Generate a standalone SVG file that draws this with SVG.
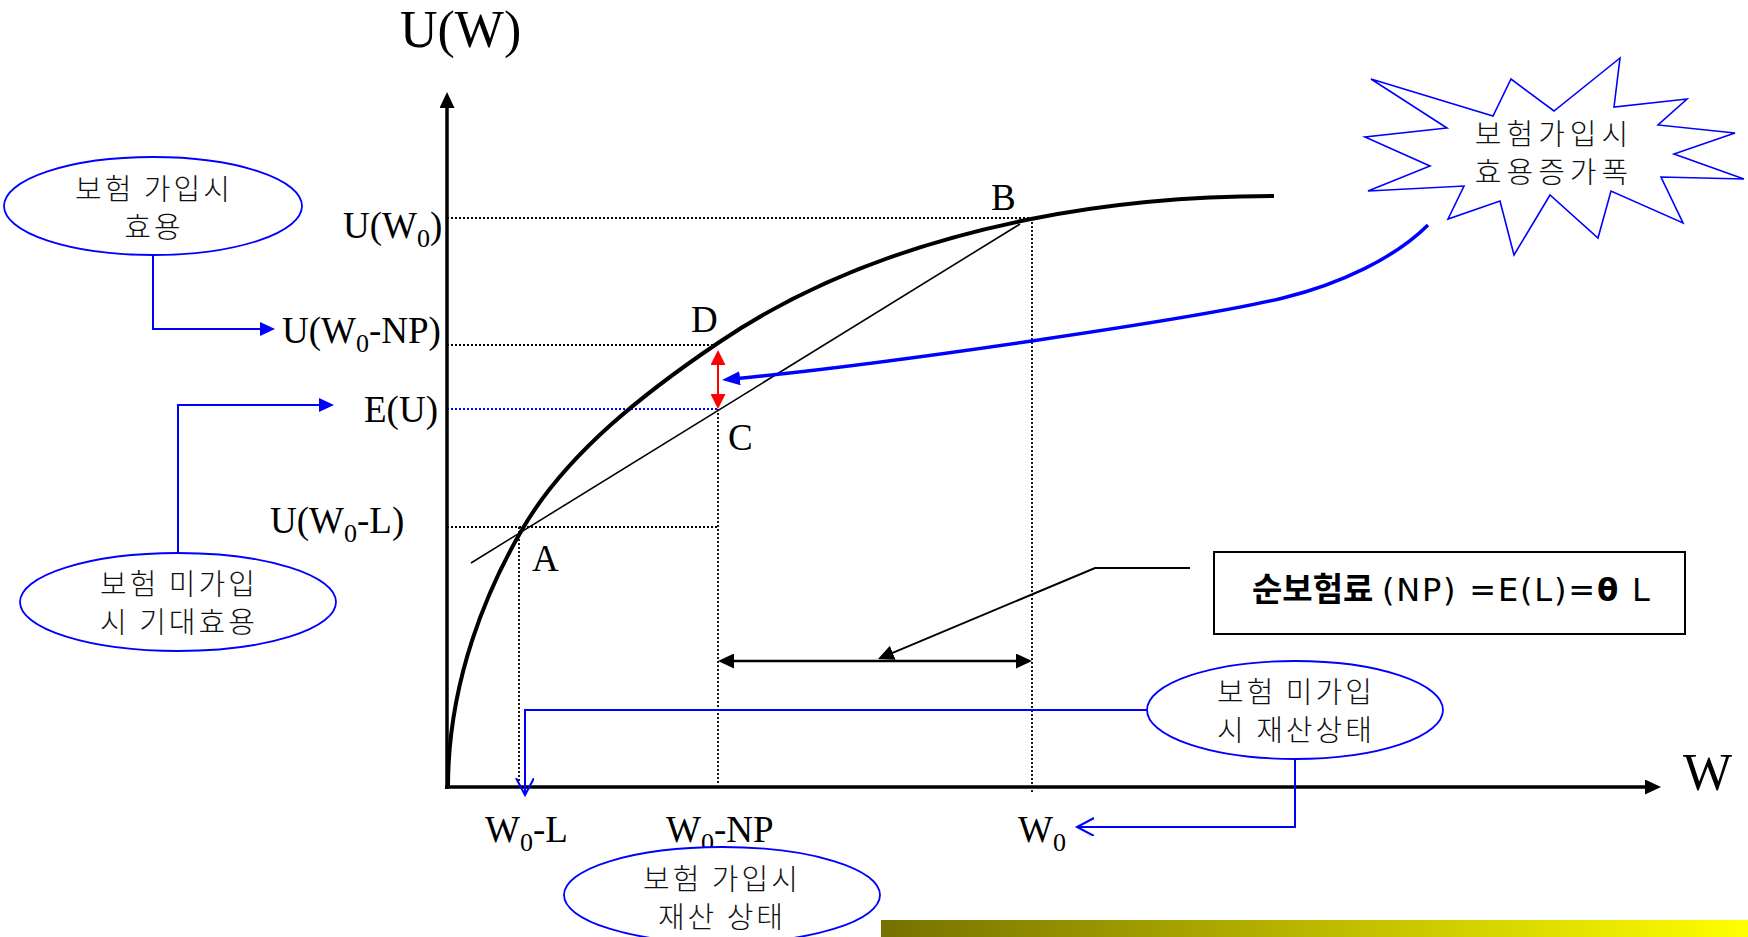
<svg xmlns="http://www.w3.org/2000/svg" width="1748" height="937" viewBox="0 0 1748 937">
<style>
.serif{font-family:"Liberation Serif","Times New Roman",serif;fill:#000}
.big{font-size:52px}
.lab{font-size:37px}
.sub{font-size:26px}
.kr{font-family:"Noto Sans CJK KR","Noto Sans",sans-serif;font-size:29px;font-weight:300;letter-spacing:3px;fill:#111;text-anchor:middle}
.krs{letter-spacing:5px}
.ell{fill:#fff;stroke:#0000ff;stroke-width:1.8}
.dot{stroke:#000;stroke-width:1.8;stroke-dasharray:2 2;fill:none}
.dotb{stroke:#0000ff;stroke-width:1.8;stroke-dasharray:2 2;fill:none}
.blue{stroke:#0000ff;stroke-width:2;fill:none}
</style>
<defs>
<marker id="ak" markerUnits="userSpaceOnUse" markerWidth="16" markerHeight="15" refX="6" refY="7.5" orient="auto-start-reverse"><path d="M0,0 L16,7.5 L0,15 z" fill="#000"/></marker>
<marker id="ar" markerUnits="userSpaceOnUse" markerWidth="15" markerHeight="15" refX="5" refY="7.5" orient="auto-start-reverse"><path d="M0,0 L15,7.5 L0,15 z" fill="#ff0000"/></marker>
<marker id="ab" markerUnits="userSpaceOnUse" markerWidth="18" markerHeight="14" refX="8" refY="7" orient="auto"><path d="M0,0 L18,7 L0,14 z" fill="#0000ff"/></marker>
<marker id="ab2" markerUnits="userSpaceOnUse" markerWidth="15" markerHeight="14" refX="5" refY="7" orient="auto"><path d="M0,0 L15,7 L0,14 z" fill="#0000ff"/></marker>
<marker id="ao" markerUnits="userSpaceOnUse" markerWidth="20" markerHeight="20" refX="17" refY="9" orient="auto"><path d="M0,0 L17,9 L0,18" fill="none" stroke="#0000ff" stroke-width="2"/></marker>
<linearGradient id="bar" x1="0" y1="0" x2="1" y2="0"><stop offset="0" stop-color="#767100"/><stop offset="1" stop-color="#ffff00"/></linearGradient>
</defs>

<rect x="881" y="920" width="867" height="17" fill="url(#bar)"/>

<g id="guides">
<line class="dot" x1="447" y1="218" x2="1031" y2="218"/>
<line class="dot" x1="447" y1="345" x2="717" y2="345"/>
<line class="dotb" x1="447" y1="409" x2="718" y2="409"/>
<line class="dot" x1="447" y1="527" x2="717" y2="527"/>
<line class="dot" x1="519" y1="527" x2="519" y2="784"/>
<line class="dot" x1="718" y1="409" x2="718" y2="784"/>
<line class="dot" x1="1032" y1="218" x2="1032" y2="794"/>
</g>

<g id="axes">
<line x1="447" y1="789" x2="447" y2="102" stroke="#000" stroke-width="3.5" marker-end="url(#ak)"/>
<line x1="445" y1="787" x2="1651" y2="787" stroke="#000" stroke-width="3.5" marker-end="url(#ak)"/>
<text class="serif big" x="400" y="47">U(W)</text>
<text class="serif big" x="1683" y="790">W</text>
</g>

<g id="curve">
<path d="M448,787 C448,680 488,587.5 523,528 C568,451.5 648,390.4 718,343 C818,275 931,239 1031,219 C1111,203 1194,196 1274,196" fill="none" stroke="#000" stroke-width="4"/>
<line x1="471" y1="563" x2="1020" y2="224" stroke="#000" stroke-width="1.6"/>
</g>

<g id="labels">
<text class="serif lab" x="343" y="238">U(W<tspan class="sub" dy="9">0</tspan><tspan dy="-9">)</tspan></text>
<text class="serif lab" x="282" y="343">U(W<tspan class="sub" dy="9">0</tspan><tspan dy="-9">-NP)</tspan></text>
<text class="serif lab" x="364" y="422">E(U)</text>
<text class="serif lab" x="270" y="533">U(W<tspan class="sub" dy="9">0</tspan><tspan dy="-9">-L)</tspan></text>
<text class="serif lab" x="532" y="571">A</text>
<text class="serif lab" x="991" y="210">B</text>
<text class="serif lab" x="728" y="450">C</text>
<text class="serif lab" x="691" y="332">D</text>
<text class="serif lab" x="485" y="842">W<tspan class="sub" dy="9">0</tspan><tspan dy="-9">-L</tspan></text>
<text class="serif lab" x="666" y="842">W<tspan class="sub" dy="9">0</tspan><tspan dy="-9">-NP</tspan></text>
<text class="serif lab" x="1018" y="842">W<tspan class="sub" dy="9">0</tspan></text>
</g>

<g id="connectors">
<path d="M1428,225 C1395,258 1340,284 1283,298 C1203,317.6 890,364 732,379" fill="none" stroke="#0000ff" stroke-width="3.5" marker-end="url(#ab)"/>
<line x1="718" y1="360" x2="718" y2="399" stroke="#ff0000" stroke-width="2" marker-start="url(#ar)" marker-end="url(#ar)"/>
<line x1="728" y1="661" x2="1022" y2="661" stroke="#000" stroke-width="2.5" marker-start="url(#ak)" marker-end="url(#ak)"/>
<polyline points="1190,568 1095,568 887.2,655.1" fill="none" stroke="#000" stroke-width="2" marker-end="url(#ak)"/>
<polyline class="blue" points="153,255 153,329 265,329" marker-end="url(#ab2)"/>
<polyline class="blue" points="178,553 178,405 324,405" marker-end="url(#ab2)"/>
<polyline class="blue" points="1147,710 525,710 525,795" marker-end="url(#ao)"/>
<polyline class="blue" points="1295,759 1295,827 1077,827" marker-end="url(#ao)"/>
</g>

<g id="node-insured-utility">
<ellipse class="ell" cx="153" cy="206" rx="149" ry="49"/>
<text class="kr" x="154" y="200">보험 가입시</text>
<text class="kr" x="154" y="238">효용</text>
</g>

<g id="node-uninsured-eu">
<ellipse class="ell" cx="178" cy="602" rx="158" ry="49"/>
<text class="kr" x="179" y="595">보험 미가입</text>
<text class="kr" x="179" y="633">시 기대효용</text>
</g>

<g id="node-insured-wealth">
<ellipse class="ell" cx="722" cy="895" rx="158" ry="48"/>
<text class="kr" x="722" y="890">보험 가입시</text>
<text class="kr" x="722" y="928">재산 상태</text>
</g>

<g id="node-uninsured-wealth">
<ellipse class="ell" cx="1295" cy="710" rx="148" ry="49"/>
<text class="kr" x="1296" y="703">보험 미가입</text>
<text class="kr" x="1296" y="741">시 재산상태</text>
</g>

<g id="node-gain">
<polygon points="1371,79 1493,116 1511,79 1554,111 1620,58 1614,107 1687,99 1658,125 1735,133 1674,154 1744,179 1661,177 1683,223 1611,191 1598,238 1550,195 1514,255 1500,201 1448,219 1464,186 1368,191 1430,166 1365,137 1447,128" fill="#fff" stroke="#0000ff" stroke-width="1.6"/>
<text class="kr krs" x="1554" y="145">보험가입시</text>
<text class="kr krs" x="1554" y="183">효용증가폭</text>
</g>

<g id="node-np">
<rect x="1214" y="552" width="471" height="82" fill="#fff" stroke="#000" stroke-width="2"/>
<text font-family="'Noto Sans CJK KR','Noto Sans',sans-serif" font-size="33" fill="#000" y="601"><tspan x="1252" font-weight="bold">순보험료</tspan><tspan x="1382" font-family="'DejaVu Sans',sans-serif" font-size="32" textLength="213" lengthAdjust="spacing">(NP) =E(L)=</tspan><tspan x="1597" font-family="'DejaVu Sans',sans-serif" font-size="31" font-weight="bold">θ</tspan><tspan x="1632" font-family="'DejaVu Sans',sans-serif" font-size="32">L</tspan></text>
</g>
</svg>
